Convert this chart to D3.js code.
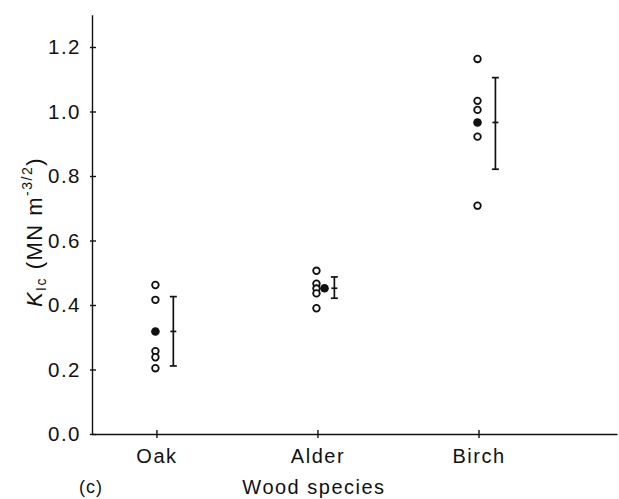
<!DOCTYPE html>
<html>
<head>
<meta charset="utf-8">
<script src="https://cdn.jsdelivr.net/npm/d3@7"></script>
<style>
  html, body { margin: 0; padding: 0; background: #fff; }
  svg text { font-family: "Liberation Sans", Arial, Helvetica, sans-serif; fill: #111; }
</style>
</head>
<body>
<svg id="chart" width="619" height="499"></svg>
<script>
// ---- data ----
const categories = ["Oak", "Alder", "Birch"];
const oakValues   = [0.462, 0.416, 0.257, 0.238, 0.204];
const alderValues = [0.506, 0.466, 0.451, 0.436, 0.390];
const birchValues = [1.163, 1.033, 1.005, 0.922, 0.708];
const meanValues  = [0.318, 0.452, 0.966];
const barLow      = [0.211, 0.421, 0.821];
const barHigh     = [0.426, 0.487, 1.105];
const yTickValues = [0.0, 0.2, 0.4, 0.6, 0.8, 1.0, 1.2];
const seriesValues = [oakValues, alderValues, birchValues];

// ---- layout ----
const svg = d3.select("#chart");
const axisColor = "#111";
const x = d3.scaleLinear().domain([0.6, 3.86]).range([92, 617]);
const y = d3.scaleLinear().domain([0, 1.3]).range([434, 14.75]);

// y axis
const yAxis = d3.axisLeft(y).tickValues(yTickValues).tickFormat(d3.format(".1f")).tickSize(0).tickPadding(11);
const gy = svg.append("g").attr("transform", `translate(${x.range()[0]},0)`).call(yAxis);
gy.select(".domain").attr("stroke", axisColor).attr("stroke-width", 1.4);
gy.selectAll(".tick text").style("font-size", "20.5px").style("letter-spacing", "1.5px").attr("fill", "#111");
gy.selectAll(".tick").append("line").attr("x1", -2).attr("x2", 4).attr("stroke", axisColor).attr("stroke-width", 1.4);
gy.selectAll(".tick").filter(d => d === 0).select("line").remove();

// x axis
const xAxis = d3.axisBottom(x).tickValues([1, 2, 3]).tickFormat(i => categories[i - 1]).tickSize(0).tickPadding(15);
const gx = svg.append("g").attr("transform", `translate(0,${y(0)})`).call(xAxis);
gx.select(".domain").attr("stroke", axisColor).attr("stroke-width", 1.4);
gx.selectAll(".tick text").style("font-size", "20px").style("letter-spacing", "1.5px").attr("fill", "#111");
gx.selectAll(".tick").append("line").attr("y1", -4).attr("y2", 4).attr("stroke", axisColor).attr("stroke-width", 1.4);

// individual points
seriesValues.forEach((vals, i) => {
  svg.append("g").selectAll("circle").data(vals).join("circle")
    .attr("cx", x(i + 1) - 1)
    .attr("cy", d => y(d))
    .attr("r", 3.3)
    .attr("fill", "#fff")
    .attr("stroke", "#111")
    .attr("stroke-width", 1.8);
});

// means (filled)
const meanShift = [0, 0.05, 0];
svg.append("g").selectAll("circle").data(meanValues).join("circle")
  .attr("cx", (d, i) => x(i + 1 + meanShift[i]) - 1)
  .attr("cy", d => y(d))
  .attr("r", 4.3)
  .attr("fill", "#111");

// error bars
const barShift = 0.105;
const eb = svg.append("g").attr("stroke", "#111").attr("stroke-width", 1.7);
categories.forEach((c, i) => {
  const bx = x(i + 1 + barShift);
  eb.append("line").attr("x1", bx).attr("x2", bx).attr("y1", y(barLow[i])).attr("y2", y(barHigh[i]));
  eb.append("line").attr("x1", bx - 3.5).attr("x2", bx + 3.5).attr("y1", y(barLow[i])).attr("y2", y(barLow[i]));
  eb.append("line").attr("x1", bx - 3.5).attr("x2", bx + 3.5).attr("y1", y(barHigh[i])).attr("y2", y(barHigh[i]));
  eb.append("line").attr("x1", bx - 3).attr("x2", bx + 3).attr("y1", y(meanValues[i])).attr("y2", y(meanValues[i]));
});

// axis titles
svg.append("text").attr("x", 314).attr("y", 494).attr("text-anchor", "middle")
  .style("font-size", "20px").style("letter-spacing", "1.5px").text("Wood species");
svg.append("text").attr("x", 79).attr("y", 493)
  .style("font-size", "18px").style("letter-spacing", "1px").text("(c)");

const yt = svg.append("text")
  .attr("transform", "translate(42,232) rotate(-90)")
  .attr("text-anchor", "middle")
  .style("font-size", "22px").style("letter-spacing", "1.5px");
yt.append("tspan").style("font-style", "italic").text("K");
yt.append("tspan").attr("dy", 4).style("font-size", "14px").text("Ic");
yt.append("tspan").attr("dy", -4).text(" (MN m");
yt.append("tspan").attr("dy", -10).style("font-size", "14px").text("-3/2");
yt.append("tspan").attr("dy", 10).text(")");
</script>
</body>
</html>
